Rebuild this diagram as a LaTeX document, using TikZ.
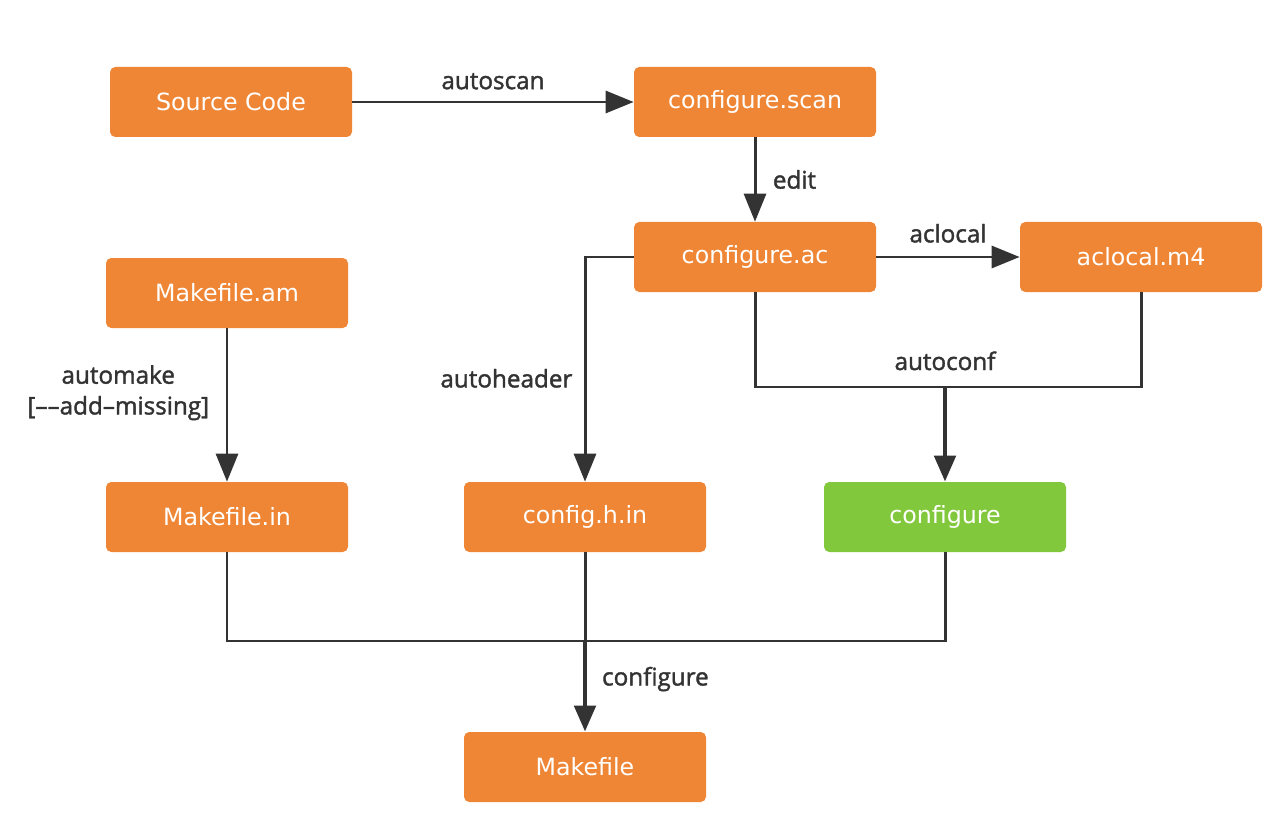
\documentclass[tikz,border=0pt]{standalone}
\usepackage{fontspec}
\setmainfont{DejaVu Sans}
\newfontfamily\lblfont[FakeBold=1.6]{Open Sans}
\usetikzlibrary{arrows.meta,positioning,calc}
\definecolor{tool}{HTML}{EF8636}
\definecolor{goal}{HTML}{82C83D}
\definecolor{wire}{HTML}{333333}
\tikzset{file/.style={fill=tool,rounded corners=3pt,align=center,text=white,font=\fontsize{13.5}{16}\selectfont,minimum width=4.84cm,minimum height=1.4cm}, lbl/.style={text=wire,align=center,font=\lblfont\fontsize{13.8}{17.5}\selectfont}, conn/.style={draw=wire,line width=1.7pt}, arr/.style={conn,-{Triangle[length=5.6mm,width=4.4mm]}}, bigarr/.style={draw=wire,line width=2.8pt,-{Triangle[length=5.2mm,width=4.2mm]}}}

\begin{document}
\begin{tikzpicture}[x=1cm,y=1cm]
\useasboundingbox[fill=white](0,0)rectangle(25.72,-16.4);
\node[file](src)at(4.62,-2.04){Source Code};\node[file](scan)at(15.10,-2.04){configure.scan};\node[file](ac)at(15.10,-5.14){configure.ac};\node[file](m4)at(22.82,-5.14){aclocal.m4};
\node[file](mam)at(4.54,-5.86){Makefile.am};\node[file](min)at(4.54,-10.34){Makefile.in};\node[file](chin)at(11.70,-10.34){config.h.in};\node[file,fill=goal](cfg)at(18.90,-10.34){configure};\node[file](mk)at(11.70,-15.34){Makefile};
\coordinate(jconf)at(18.90,-7.74);\coordinate(jmake)at(11.70,-12.82);
\draw[arr](src)--node[lbl,above=3pt]{autoscan}(scan);\draw[arr](scan)--node[lbl,right=6pt]{edit}(ac);\draw[arr](ac)--node[lbl,above=4pt]{aclocal}(m4);
\draw[arr](ac.west)-|node[lbl,left=3pt,pos=0.77]{autoheader}(chin.north);\draw[arr](mam)--node[lbl,left=6pt,pos=0.42]{automake\\{[}\textendash\textendash add\textendash missing{]}}(min);
\draw[conn](ac.south)|-(jconf)-|(m4.south);\draw[bigarr](jconf)--(cfg.north);\node[lbl,above=6pt]at(jconf){autoconf};
\draw[conn](min.south)|-(jmake)-|(cfg.south);\draw[conn](chin.south)--(jmake);\draw[bigarr](jmake)--node[lbl,right=5pt,pos=0.42]{configure}(mk.north);
\end{tikzpicture}
\end{document}
